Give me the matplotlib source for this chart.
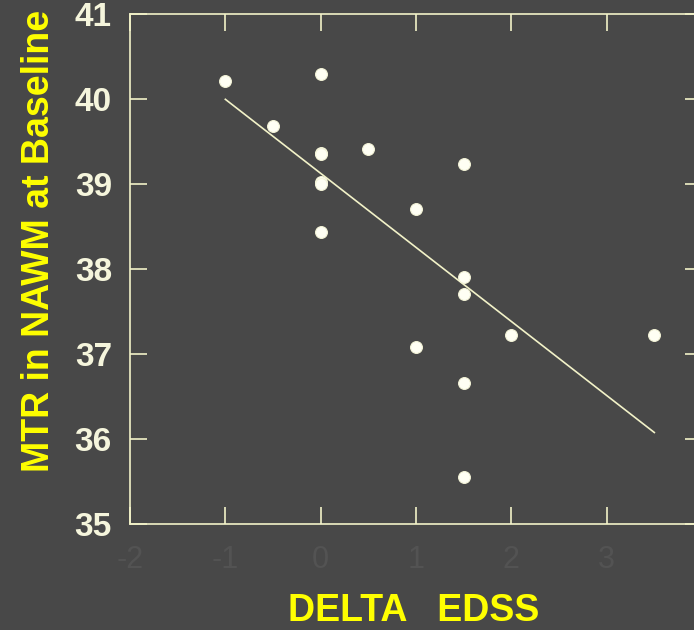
import numpy as np
import matplotlib
matplotlib.use("Agg")
import matplotlib.pyplot as plt

# Data
delta_edss = [-1.0, -0.5, 0.0, 0.0, 0.0, 0.0, 0.0, 0.0, 0.5, 1.0, 1.0,
              1.5, 1.5, 1.5, 1.5, 1.5, 2.0, 3.5]
mtr_nawm = [40.21, 39.68, 40.29, 39.37, 39.35, 39.02, 39.00, 38.44, 39.41,
            38.70, 37.08, 39.24, 37.91, 37.71, 36.66, 35.55, 37.22, 37.22]
x_ticks = [-2, -1, 0, 1, 2, 3]
y_ticks = [35, 36, 37, 38, 39, 40, 41]
fit_range = [-1.0, 3.5]

bg = "#484848"
cream = "#f2f2c8"
yellow = "#ffff00"

plt.rcParams['font.family'] = ['Liberation Sans', 'DejaVu Sans']

fig = plt.figure(figsize=(6.94, 6.30), dpi=100, facecolor=bg)
ax = fig.add_axes([130/694, 1-524/630, (702-130)/694, (524-14)/630])
ax.set_facecolor(bg)

slope, intercept = np.polyfit(delta_edss, mtr_nawm, 1)
fx = np.array(fit_range)
ax.plot(fx, slope*fx + intercept, color=cream, lw=1.2, zorder=2)

ax.plot(delta_edss, mtr_nawm, linestyle='none', marker='o', ms=8.5,
        mfc='#fffff4', mec='#f4f4d8', mew=0.8, zorder=3)

ax.set_xlim(-2, 4)
ax.set_ylim(35, 41)
ax.set_xticks(x_ticks)
ax.set_yticks(y_ticks)
ax.set_xticklabels([str(v) for v in x_ticks], fontsize=22, color='#535353')
ax.set_yticklabels([str(v) for v in y_ticks], fontsize=24, fontweight='bold',
                   color='#f5f5dc')
ax.tick_params(axis='both', direction='in', length=12, width=1.2, color=cream,
               top=True, right=True)
ax.tick_params(axis='y', pad=13)
ax.tick_params(axis='x', pad=15)
for s in ax.spines.values():
    s.set_color(cream)
    s.set_linewidth(1.2)

ax.set_xlabel("DELTA   EDSS", fontsize=27, fontweight='bold', color=yellow,
              va='baseline')
ax.xaxis.set_label_coords((414-130)/572, -(621-524)/510)
ax.set_ylabel("MTR in NAWM at Baseline", fontsize=27, fontweight='bold',
              color=yellow)
ax.yaxis.set_label_coords((57-130)/572, 1 - (241-14)/510)

fig.savefig("out.png", dpi=100, facecolor=bg)
